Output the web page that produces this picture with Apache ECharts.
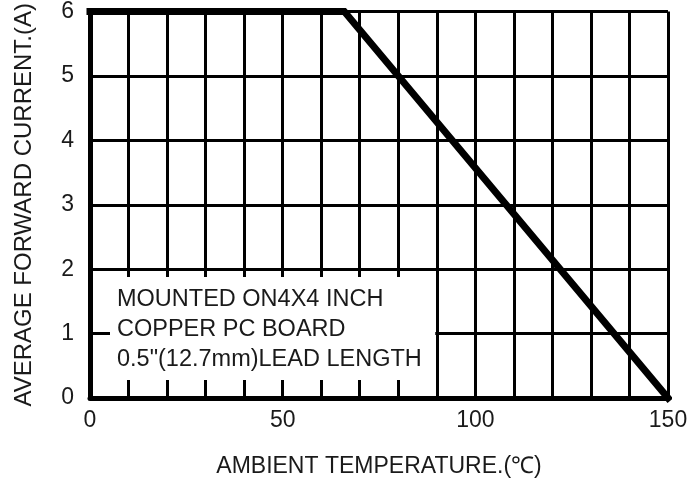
<!DOCTYPE html>
<html>
<head>
<meta charset="utf-8">
<script src="https://cdn.jsdelivr.net/npm/echarts@6/dist/echarts.min.js"></script>
<style>
	html, body { margin: 0; padding: 0; background: #fff; }
	#derating { width: 700px; height: 486px; }
</style>
</head>
<body>
<div id="derating"></div>
<script>
// derating curve
var ambientTemp = [0, 66, 150];
var forwardCurrent = [6, 6, 0];
var xLabelValues = [0, 50, 100, 150];
var yLabelValues = [0, 1, 2, 3, 4, 5, 6];
var noteLines = [
	"MOUNTED ON4X4 INCH",
	"COPPER PC BOARD",
	"0.5\"(12.7mm)LEAD LENGTH",
];
// note box corners, in data units
var noteBoxFrom = [0, 0];
var noteBoxTo = [89.6, 1.88];

var textColor = '#1a1a1a';
var fontName = '"Liberation Sans", Arial, sans-serif';

function showDerating() {
	var chartDom = document.getElementById("derating");
	var myChart = echarts.init(chartDom);
	var option;

	var points = [];
	for (var i = 0; i < ambientTemp.length; i++) {
		points.push([ambientTemp[i], forwardCurrent[i]]);
	}

	option = {
		animation: false,
		backgroundColor: '#fff',
		grid: {
			left: 90,
			right: 32,
			top: 10,
			bottom: 88,
		},
		xAxis: [
			{
				// grid lines + labels, drawn under the note box
				type: 'value',
				position: 'bottom',
				min: 0,
				max: 150,
				interval: 10,
				z: 0,
				name: 'AMBIENT TEMPERATURE.(℃)',
				nameLocation: 'middle',
				nameGap: 57,
				nameTextStyle: { color: textColor, fontSize: 23, fontFamily: fontName },
				axisLine: { show: false },
				axisTick: { show: false },
				axisLabel: {
					color: textColor,
					fontSize: 23,
					fontFamily: fontName,
					margin: 11,
					formatter: function(v) {
						return xLabelValues.indexOf(v) >= 0 ? String(v) : '';
					},
				},
				splitLine: { show: true, lineStyle: { color: '#000', width: 3 } },
			},
			{
				// frame + inner ticks, drawn over the note box
				type: 'value',
				position: 'bottom',
				min: 0,
				max: 150,
				interval: 10,
				z: 5,
				axisLine: { show: true, lineStyle: { color: '#000', width: 5 } },
				axisTick: { show: true, inside: true, length: 18, lineStyle: { color: '#000', width: 3 } },
				axisLabel: { show: false },
				splitLine: { show: false },
			}
		],
		yAxis: [
			{
				type: 'value',
				position: 'left',
				min: 0,
				max: 6,
				interval: 1,
				z: 0,
				name: 'AVERAGE FORWARD CURRENT.(A)',
				nameLocation: 'middle',
				nameGap: 54,
				nameTextStyle: { color: textColor, fontSize: 24, fontFamily: fontName },
				axisLine: { show: false },
				axisTick: { show: false },
				axisLabel: {
					color: textColor,
					fontSize: 23,
					fontFamily: fontName,
					margin: 16,
					formatter: function(v) {
						return yLabelValues.indexOf(v) >= 0 ? String(v) : '';
					},
				},
				splitLine: { show: true, lineStyle: { color: '#000', width: 3 } },
			},
			{
				type: 'value',
				position: 'left',
				min: 0,
				max: 6,
				interval: 1,
				z: 5,
				axisLine: { show: true, lineStyle: { color: '#000', width: 5 } },
				axisTick: { show: true, inside: true, length: 20, lineStyle: { color: '#000', width: 3 } },
				axisLabel: { show: false },
				splitLine: { show: false },
			}
		],
		series: [
			{
				type: 'line',
				xAxisIndex: 0,
				yAxisIndex: 0,
				data: points,
				showSymbol: false,
				symbol: 'none',
				clip: false,
				z: 3,
				lineStyle: { color: '#000', width: 7, cap: 'square', join: 'miter' },
				markArea: {
					silent: true,
					z: 1,
					itemStyle: { color: '#fff', opacity: 1, borderWidth: 0 },
					label: {
						show: true,
						position: [27, 8],
						align: 'left',
						verticalAlign: 'top',
						color: textColor,
						fontSize: 23.5,
						fontFamily: fontName,
						lineHeight: 30,
						formatter: noteLines.join('\n'),
					},
					data: [
						[
							{ coord: noteBoxFrom },
							{ coord: noteBoxTo }
						]
					],
				},
			}
		]
	};

	option && myChart.setOption(option);
}

showDerating();
</script>
</body>
</html>
